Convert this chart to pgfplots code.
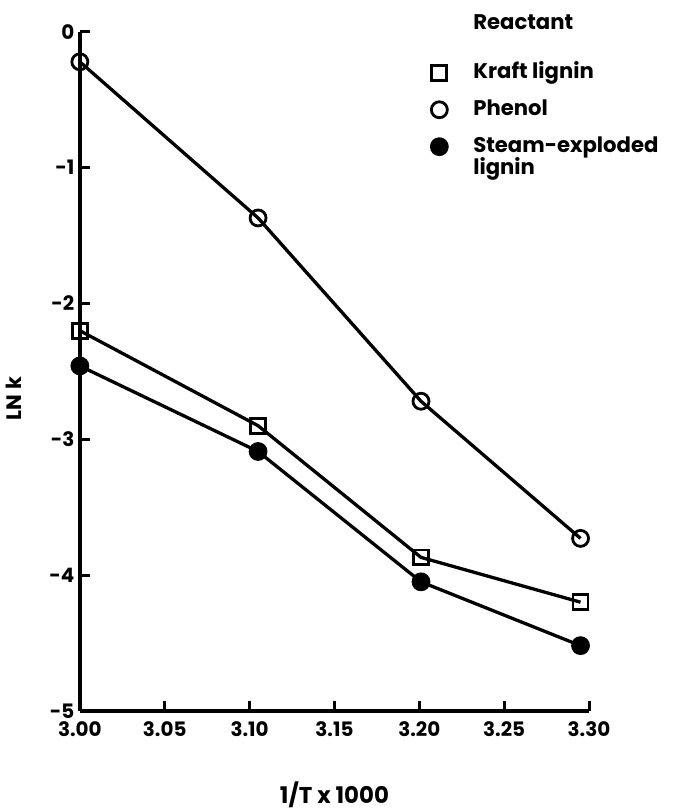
\documentclass[border=0pt]{standalone}
\usepackage{fontspec}
\setmainfont{Poppins}
\usepackage{pgfplots}
\pgfplotsset{compat=1.18}
\begin{document}
\begin{tikzpicture}
\begin{axis}[
  name=ax,
  scale only axis,
  width=510bp, height=680bp,
  xmin=3.0, xmax=3.3, ymin=-5, ymax=0,
  axis x line=bottom, axis y line=left,
  axis line style={-, line width=3.6bp},
  tick style={line width=3bp, black},
  major tick length=10bp,
  tick align=inside,
  xtick={3.00,3.05,3.10,3.15,3.20,3.25,3.30},
  xticklabels={3.00,3.05,3.10,3.15,3.20,3.25,3.30},
  ytick={-5,-4,-3,-2,-1,0},
  yticklabels={-5,-4,-3,-2,-1,0},
  /pgf/number format/assume math mode=true,
  x tick label style={font=\bfseries\fontsize{20}{22}\selectfont, yshift=-7bp},
  y tick label style={font=\bfseries\fontsize{20}{22}\selectfont, xshift=-2bp},
  xlabel={1/T x 1000},
  xlabel style={font=\bfseries\fontsize{23}{25}\selectfont, at={(axis description cs:0.50,0)}, anchor=center, yshift=-84bp},
  ylabel={LN k},
  ylabel style={font=\bfseries\fontsize{21}{23}\selectfont, at={(axis description cs:-0.13,0.46)}, anchor=center},
  clip=false,
  legend style={draw=none, fill=none, inner sep=0pt, at={(axis description cs:0.688,1.029)}, anchor=north west,
    font=\bfseries\fontsize{21.3}{22}\selectfont, row sep=14bp,
    nodes={text height=15bp, text depth=4bp, inner xsep=3bp}},
  legend cell align=left,
  legend image code/.code={\path[draw=none,fill=none] (0bp,0bp) -- (40bp,0bp); \draw[#1, only marks] plot coordinates {(9bp,0bp)};},
  every axis plot/.append style={line width=3.3bp, black, mark size=8bp},
]
\addlegendimage{empty legend}
\addlegendentry[text depth=16bp]{Reactant}
\addplot[mark=square, mark options={fill=white, mark size=7.5bp, line width=2.8bp}] coordinates {
  (3.000,-2.20) (3.105,-2.90) (3.201,-3.87) (3.295,-4.20)};
\addlegendentry{Kraft lignin}
\addplot[mark=o, mark options={fill=white, line width=2.8bp}] coordinates {
  (3.000,-0.22) (3.105,-1.37) (3.201,-2.72) (3.295,-3.73)};
\addlegendentry{Phenol}
\addplot[mark=*, mark options={fill=black, line width=2.8bp}] coordinates {
  (3.000,-2.46) (3.105,-3.09) (3.201,-4.05) (3.295,-4.52)};
\addlegendentry{\begin{tabular}[t]{@{}l@{}}Steam-exploded\\[-1bp]lignin\end{tabular}}
\end{axis}
\path ([shift={(-80bp,-99bp)}]ax.south west) rectangle ([shift={(91bp,32bp)}]ax.north east);
\end{tikzpicture}
\end{document}
